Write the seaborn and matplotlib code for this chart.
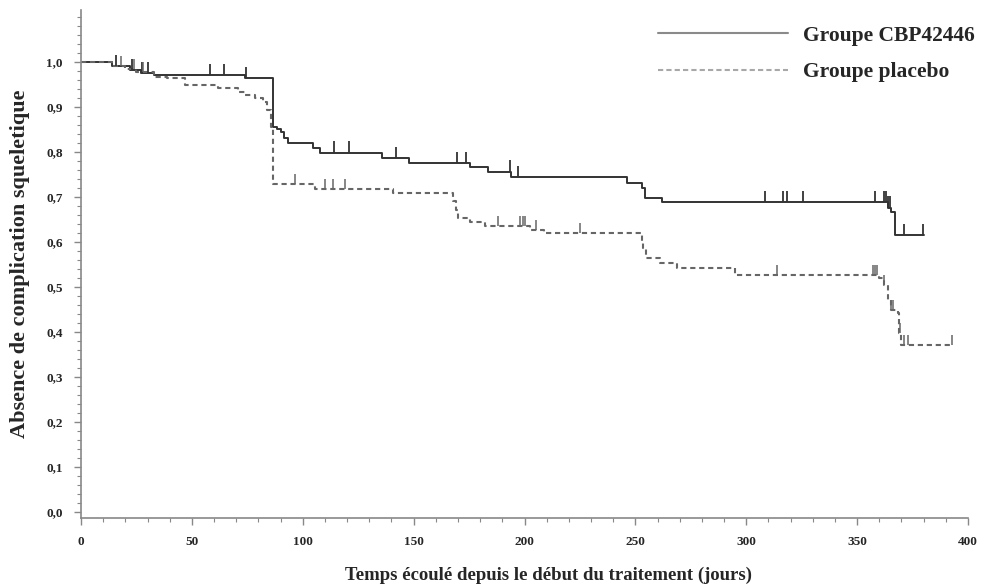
import numpy as np
import pandas as pd
import matplotlib
matplotlib.use("Agg")
import matplotlib.pyplot as plt
from matplotlib.lines import Line2D
from matplotlib.ticker import MultipleLocator, FuncFormatter
import seaborn as sns

# Kaplan-Meier steps
cbp_days = [0, 14, 22, 27, 33, 74, 86.6, 88.4, 90, 91.5, 93.4, 104.6, 108, 135.6, 148,
            175.4, 183.5, 194, 246, 253, 254.4, 262, 364, 365.5, 367, 380]
cbp_surv = [1.0, 0.99, 0.982, 0.975, 0.97, 0.963, 0.855, 0.851, 0.844, 0.83, 0.819, 0.808, 0.798,
            0.785, 0.774, 0.767, 0.756, 0.744, 0.731, 0.72, 0.697, 0.688, 0.676, 0.665, 0.615, 0.615]

plac_days = [0, 14, 20, 25, 33, 39, 47, 62, 71, 74, 78.5, 82, 84, 85.5, 86.6, 105.5, 140.7,
             167.8, 169, 170, 175.4, 182, 202.5, 209, 252.8, 253.5, 255, 261, 268.6, 295,
             360, 362, 364, 365.5, 368.5, 369, 370, 393]
plac_surv = [1.0, 0.99, 0.983, 0.978, 0.967, 0.963, 0.948, 0.942, 0.933, 0.926, 0.919, 0.91,
             0.893, 0.856, 0.728, 0.717, 0.708, 0.69, 0.67, 0.652, 0.644, 0.635, 0.626, 0.619,
             0.6, 0.585, 0.563, 0.552, 0.541, 0.527, 0.519, 0.504, 0.47, 0.448, 0.441, 0.397,
             0.37, 0.37]

# censored observations (small vertical ticks)
cbp_cens = [16, 23, 27.4, 30, 58, 64.5, 74.3, 114, 121, 142, 169.7, 173.6, 193.5, 197,
            308.5, 316.7, 318.2, 325.4, 358, 362, 363, 364, 365, 371, 379.6]
plac_cens = [18, 24, 28, 96.5, 110, 113.8, 119, 188, 198, 199.5, 200, 205, 225, 314,
             357, 358, 359, 362, 365.5, 366, 369.5, 371, 373, 393]

labels = ["Groupe CBP42446", "Groupe placebo"]

sns.set_style("ticks")
plt.rcParams['font.family'] = ['Liberation Serif', 'DejaVu Serif']
plt.rcParams['font.weight'] = 'bold'

fig = plt.figure(figsize=(9.84, 5.84), dpi=100)
ax = fig.add_axes([81 / 984, 66 / 584, 887 / 984, 508 / 584])

df_cbp = pd.DataFrame({"jours": cbp_days, "surv": cbp_surv})
df_plac = pd.DataFrame({"jours": plac_days, "surv": plac_surv})

sns.lineplot(data=df_cbp, x="jours", y="surv", ax=ax, color="#333333", lw=1.4,
             drawstyle="steps-post", estimator=None, sort=False)
sns.lineplot(data=df_plac, x="jours", y="surv", ax=ax, color="#666666", lw=1.5,
             drawstyle="steps-post", estimator=None, sort=False, dashes=False)
ax.lines[-1].set_linestyle((0, (2.5, 1.8)))


def step_value(days, surv, t):
    i = np.searchsorted(days, t, side="right") - 1
    return np.asarray(surv)[i]


y_c = step_value(cbp_days, cbp_surv, cbp_cens)
ax.vlines(cbp_cens, y_c, y_c + 0.025, color="#333333", lw=1.3)
y_p = step_value(plac_days, plac_surv, plac_cens)
ax.vlines(plac_cens, y_p, y_p + 0.022, color="#666666", lw=1.1)

ax.set_xlim(0, 400)
ax.set_ylim(-0.014, 1.115)
ax.xaxis.set_major_locator(MultipleLocator(50))
ax.xaxis.set_minor_locator(MultipleLocator(10))
ax.yaxis.set_minor_locator(MultipleLocator(0.02))
ax.yaxis.set_major_formatter(FuncFormatter(lambda v, p: f"{v:.1f}".replace(".", ",")))
ax.set_yticks(np.arange(0, 1.01, 0.1))

ax.tick_params(axis="both", which="major", length=5, width=1, color="#888888",
               labelsize=9.5, pad=8)
ax.tick_params(axis="both", which="minor", length=3, width=0.8, color="#888888")
for lab in ax.get_xticklabels() + ax.get_yticklabels():
    lab.set_fontweight("bold")

sns.despine(ax=ax)
for s in ["left", "bottom"]:
    ax.spines[s].set_color("#888888")
    ax.spines[s].set_linewidth(1.2)

ax.set_xlabel("Temps écoulé depuis le début du traitement (jours)", fontsize=13.5,
              fontweight="bold", labelpad=12)
ax.xaxis.set_label_coords(0.527, -0.095)
ax.set_ylabel("Absence de complication squeletique", fontsize=16, fontweight="bold",
              labelpad=12)

handles = [Line2D([], [], color="#8a8a8a", lw=1.5),
           Line2D([], [], color="#a8a8a8", lw=1.5, linestyle=(0, (2.5, 1.5)))]
leg = ax.legend(handles, labels, loc="upper right", bbox_to_anchor=(1.029, 1.007),
                frameon=False, handlelength=6.0, handletextpad=0.7, labelspacing=0.75,
                prop={"weight": "bold", "size": 15.5})

fig.savefig("out.png", dpi=100)
